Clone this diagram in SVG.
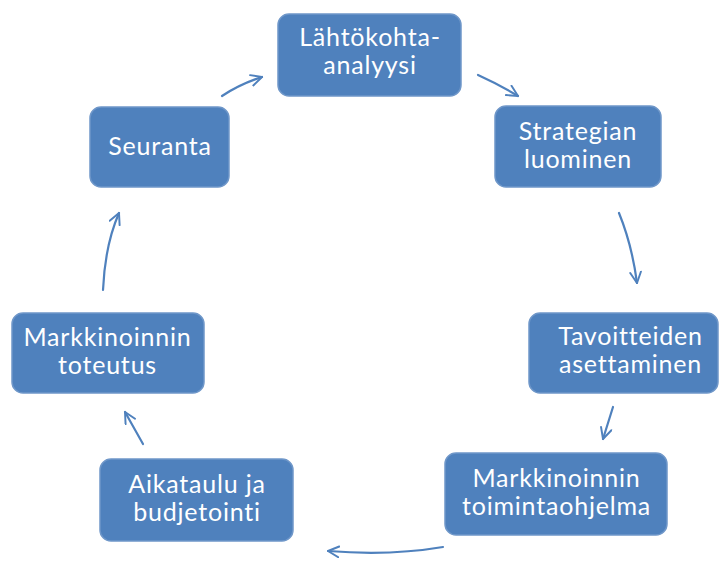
<svg xmlns="http://www.w3.org/2000/svg" width="723" height="561" viewBox="0 0 723 561">
<defs>
<style>
.box{fill:#4F81BD;stroke:#6F97C9;stroke-width:1.5}
.lbl{fill:#FFFFFF;font-family:Lato,"Open Sans",sans-serif;font-size:25px;letter-spacing:0.8px;text-anchor:middle}
.con{fill:none;stroke:#4F81BD;stroke-width:2.2;stroke-linecap:round;marker-end:url(#arr)}
</style>
<marker id="arr" viewBox="0 0 12 12" refX="11" refY="6" markerWidth="13" markerHeight="13" markerUnits="userSpaceOnUse" orient="auto">
<path d="M1,1 L11,6 L1,11" fill="none" stroke="#4F81BD" stroke-width="1.8" stroke-linecap="round" stroke-linejoin="round"/>
</marker>
</defs>
<rect width="723" height="561" fill="#FFFFFF"/>
<g id="connectors">
<path class="con" d="M222,96 Q240,84 262,77"/>
<path class="con" d="M478,75 Q498,84 518,96"/>
<path class="con" d="M619,213 Q632,245 637,283"/>
<path class="con" d="M613,407 L603,439"/>
<path class="con" d="M443,547 Q390,556 328,551"/>
<path class="con" d="M143,444 L125,412"/>
<path class="con" d="M103,290 Q105,245 119,213"/>
</g>
<g id="lahtokohta">
<rect class="box" x="278" y="14" width="183" height="82" rx="11"/>
<text class="lbl" x="370" y="46">Lähtökohta-</text>
<text class="lbl" x="370" y="74">analyysi</text>
</g>
<g id="strategian">
<rect class="box" x="495" y="106" width="166" height="81" rx="11"/>
<text class="lbl" x="578" y="140">Strategian</text>
<text class="lbl" x="578" y="168">luominen</text>
</g>
<g id="tavoitteiden">
<rect class="box" x="529" y="313" width="189" height="80" rx="11"/>
<text class="lbl" x="630.5" y="345">Tavoitteiden</text>
<text class="lbl" x="630.5" y="373">asettaminen</text>
</g>
<g id="toimintaohjelma">
<rect class="box" x="445" y="453" width="222" height="82" rx="11"/>
<text class="lbl" x="556.5" y="487">Markkinoinnin</text>
<text class="lbl" x="556.5" y="515">toimintaohjelma</text>
</g>
<g id="aikataulu">
<rect class="box" x="100" y="459" width="193" height="82" rx="11"/>
<text class="lbl" x="197" y="493">Aikataulu ja</text>
<text class="lbl" x="197" y="521">budjetointi</text>
</g>
<g id="toteutus">
<rect class="box" x="12" y="313" width="192" height="80" rx="11"/>
<text class="lbl" x="107.5" y="346">Markkinoinnin</text>
<text class="lbl" x="107.5" y="374">toteutus</text>
</g>
<g id="seuranta">
<rect class="box" x="90" y="107" width="139" height="80" rx="11"/>
<text class="lbl" x="160" y="155">Seuranta</text>
</g>
</svg>
